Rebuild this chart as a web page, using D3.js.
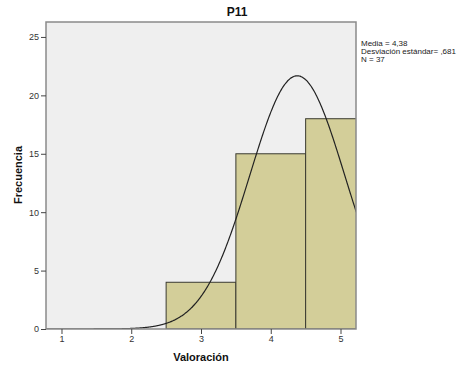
<!DOCTYPE html>
<html><head><meta charset="utf-8">
<script src="https://cdn.jsdelivr.net/npm/d3@7"></script>
<style>body{margin:0;background:#fff}text{font-family:Arial,"Liberation Sans",sans-serif}</style>
</head><body><svg id="c" width="461" height="366"></svg>
<script>
const binStarts = [2.5, 3.5, 4.5];
const binEnds = [3.5, 4.5, 5.5];
const counts = [4, 15, 18];
const xTicks = [1, 2, 3, 4, 5];
const yTicks = [0, 5, 10, 15, 20, 25];
const stats = [4.38, 0.681, 37];
const legendLines = ["Media = 4,38", "Desviación estándar= ,681", "N = 37"];

const svg = d3.select("#c");
const L = 46, R = 356, T = 22, B = 329;
const x = d3.scaleLinear().domain([0.778, 5.222]).range([L, R]);
const y = d3.scaleLinear().domain([0, 26.28]).range([B, T]);

svg.append("rect").attr("x", L).attr("y", T).attr("width", R - L).attr("height", B - T)
  .attr("fill", "#efefef").attr("stroke", "none");

const g = svg.append("g");
svg.append("clipPath").attr("id", "cl").append("rect")
  .attr("x", L).attr("y", T).attr("width", R - L).attr("height", B - T);

g.attr("clip-path", "url(#cl)");
g.selectAll("rect.bar").data(counts).enter().append("rect").attr("class", "bar")
  .attr("x", (d, i) => x(binStarts[i]))
  .attr("width", (d, i) => x(binEnds[i]) - x(binStarts[i]))
  .attr("y", d => y(d)).attr("height", d => y(0) - y(d))
  .attr("fill", "#d3ce99").attr("stroke", "#3a3a30").attr("stroke-width", 1);

const [mu, sd, n] = stats;
const pts = d3.range(0.778, 5.23, 0.01).map(v => [v, n / (sd * Math.sqrt(2 * Math.PI)) * Math.exp(-0.5 * ((v - mu) / sd) ** 2)]);
g.append("path").datum(pts)
  .attr("d", d3.line().x(d => x(d[0])).y(d => y(d[1])).curve(d3.curveBasis))
  .attr("fill", "none").attr("stroke", "#222").attr("stroke-width", 1.2);

svg.append("rect").attr("x", L).attr("y", T).attr("width", R - L).attr("height", B - T)
  .attr("fill", "none").attr("stroke", "#8a8a8a").attr("stroke-width", 1.5);

const xa = svg.append("g").attr("transform", `translate(0,${B})`)
  .call(d3.axisBottom(x).tickValues(xTicks).tickFormat(d3.format("d")).tickSize(5).tickSizeOuter(0).tickPadding(2));
xa.select(".domain").remove();
xa.selectAll("line").attr("stroke", "#444");
xa.selectAll("text").attr("font-size", 9).attr("fill", "#333");

const ya = svg.append("g").attr("transform", `translate(${L},0)`)
  .call(d3.axisLeft(y).tickValues(yTicks).tickFormat(d3.format("d")).tickSize(5).tickSizeOuter(0).tickPadding(2));
ya.select(".domain").remove();
ya.selectAll("line").attr("stroke", "#444");
ya.selectAll("text").attr("font-size", 9).attr("fill", "#333");

svg.append("text").attr("x", 237).attr("y", 16).attr("text-anchor", "middle")
  .attr("font-size", 12).attr("font-weight", "bold").attr("fill", "#111").text("P11");
svg.append("text").attr("x", 201).attr("y", 361).attr("text-anchor", "middle")
  .attr("font-size", 11).attr("font-weight", "bold").attr("fill", "#111").text("Valoración");
svg.append("text").attr("transform", "translate(22,175) rotate(-90)").attr("text-anchor", "middle")
  .attr("font-size", 11).attr("font-weight", "bold").attr("fill", "#111").text("Frecuencia");

svg.append("g").selectAll("text").data(legendLines).enter().append("text")
  .attr("x", 361).attr("y", (d, i) => 46 + i * 8.2).attr("font-size", 8).attr("fill", "#222").text(d => d);
</script></body></html>
